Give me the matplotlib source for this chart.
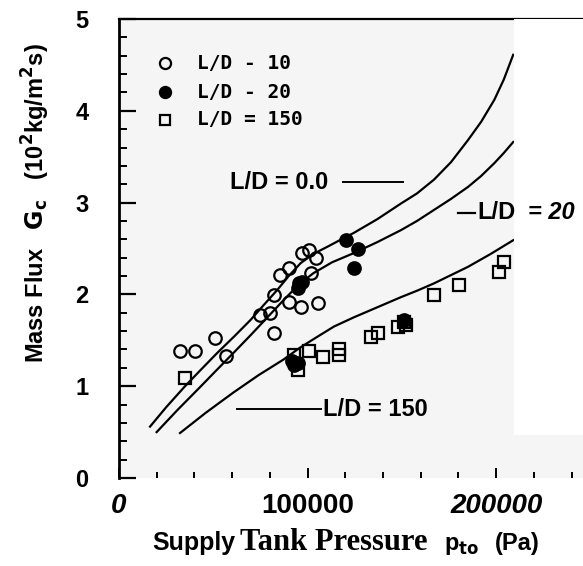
import matplotlib
matplotlib.use('Agg')
import matplotlib.pyplot as plt
from matplotlib.ticker import MultipleLocator

# data (pressure in Pa, mass flux in axis units)
ld10_p = [32400, 40400, 51100, 56900, 75000, 80300, 82000, 82400, 85600, 90000,
          90000, 96300, 97300, 100500, 101600, 104300, 105300]
ld10_g = [1.38, 1.38, 1.52, 1.33, 1.78, 1.80, 1.99, 1.58, 2.21, 2.29,
          1.92, 1.86, 2.45, 2.48, 2.23, 2.40, 1.91]

ld20_p = [120200, 126600, 124500, 95200, 94700, 97300, 92600, 94700, 92000, 151000]
ld20_g = [2.59, 2.50, 2.29, 2.12, 2.07, 2.14, 1.23, 1.25, 1.27, 1.72]

ld150_p = [35100, 92600, 94700, 100500, 108000, 116500, 116500, 133500, 137200,
           147900, 151100, 152100, 167000, 180300, 201600, 204300]
ld150_g = [1.09, 1.34, 1.18, 1.38, 1.32, 1.41, 1.34, 1.54, 1.58,
           1.65, 1.70, 1.67, 1.99, 2.10, 2.24, 2.35]

# model curves
c0_p = [16500, 25000, 34600, 43000, 52000, 61000, 69700, 77000, 84000, 90000, 96300,
        103000, 110600, 117000, 124500, 137000, 149500, 158000, 167000, 176000,
        185000, 192000, 199000, 204000, 209000]
c0_g = [0.56, 0.77, 0.99, 1.17, 1.36, 1.54, 1.72, 1.89, 2.05, 2.20, 2.34,
        2.44, 2.52, 2.59, 2.67, 2.82, 2.99, 3.10, 3.25, 3.44,
        3.68, 3.88, 4.12, 4.34, 4.61]
c20_p = [20000, 31000, 43000, 52000, 60600, 70000, 78700, 86000, 92600, 98000, 103000,
         113000, 124500, 137000, 149500, 158000, 167000, 176000, 185000, 192000,
         199000, 204000, 209000]
c20_g = [0.50, 0.74, 0.99, 1.18, 1.36, 1.56, 1.75, 1.91, 2.05, 2.15, 2.23,
         2.35, 2.45, 2.57, 2.70, 2.80, 2.92, 3.04, 3.17, 3.29,
         3.43, 3.54, 3.66]
c150_p = [32400, 46000, 60600, 74000, 87200, 96000, 105300, 114000, 124500, 137000,
          149500, 158000, 167000, 176000, 185000, 197000, 209000]
c150_g = [0.49, 0.71, 0.93, 1.12, 1.29, 1.42, 1.54, 1.65, 1.75, 1.86,
          1.97, 2.04, 2.12, 2.21, 2.30, 2.44, 2.59]

fig = plt.figure(figsize=(5.83, 5.66), dpi=100)
ax = fig.add_axes([0.204, 0.1555, 0.796, 0.8109])
ax.set_facecolor('#f5f5f5')

ax.plot(c0_p, c0_g, color='black', lw=1.6)
ax.plot(c20_p, c20_g, color='black', lw=1.6)
ax.plot(c150_p, c150_g, color='black', lw=1.6)

ax.plot(ld10_p, ld10_g, 'o', ms=9, mfc='none', mec='black', mew=1.6)
ax.plot(ld20_p, ld20_g, 'o', ms=9, mfc='black', mec='black', mew=1.6)
ax.plot(ld150_p, ld150_g, 's', ms=8.5, mfc='none', mec='black', mew=1.6)

# white patch over the right edge, as in the scan
ax.axvspan(209500, 250000, ymin=0.47 / 5, ymax=1, color='white', zorder=3, lw=0)

# hand-drawn legend
leg_x = 24500
ax.plot([leg_x], [4.52], 'o', ms=8, mfc='none', mec='black', mew=1.6)
ax.plot([leg_x], [4.20], 'o', ms=8, mfc='black', mec='black', mew=1.6)
ax.plot([leg_x], [3.90], 's', ms=7.5, mfc='none', mec='black', mew=1.6)
lfont = dict(family='DejaVu Sans Mono', fontsize=14, fontweight='bold',
             va='center', ha='left')
ax.text(41500, 4.52, 'L/D - 10', **lfont)
ax.text(41500, 4.20, 'L/D - 20', **lfont)
ax.text(41500, 3.90, 'L/D = 150', **lfont)

# curve labels
afont = dict(family='Liberation Sans', fontsize=17, fontweight='bold', va='center')
ax.text(59000, 3.22, 'L/D = 0.0', ha='left', **afont)
ax.plot([119000, 150500], [3.22, 3.22], color='black', lw=1.4)
ax.plot([62800, 107000], [0.75, 0.75], color='black', lw=1.4)
ax.text(108000, 0.75, 'L/D = 150', ha='left', **afont)
ax.plot([180000, 189000], [2.89, 2.89], color='black', lw=1.6, zorder=4)
ax.text(190000, 2.89, 'L/D', ha='left', zorder=4, **afont)
ax.text(217000, 2.89, '= 20', ha='left', va='center', family='Liberation Sans',
        fontsize=17, fontweight='bold', style='italic', zorder=4)

ax.set_xlim(0, 246000)
ax.set_ylim(0, 5)
ax.xaxis.set_major_locator(MultipleLocator(100000))
ax.xaxis.set_minor_locator(MultipleLocator(20000))
ax.yaxis.set_major_locator(MultipleLocator(1))
ax.yaxis.set_minor_locator(MultipleLocator(0.2))
ax.tick_params(axis='y', which='major', direction='in', length=12, width=1.6, pad=22)
ax.tick_params(axis='y', which='minor', direction='in', length=6, width=1.4)
ax.tick_params(axis='x', which='major', direction='in', length=7, width=1.4, pad=11)
ax.tick_params(axis='x', which='minor', direction='in', length=4, width=1.4)
ax.spines['right'].set_visible(False)
ax.spines['bottom'].set_visible(False)
ax.spines['left'].set_linewidth(2)
ax.spines['top'].set_linewidth(1.6)

ax.set_xticks([0, 100000, 200000])
ax.set_xticklabels(['0', '100000', '200000'], family='Liberation Sans',
                   fontsize=20, fontweight='bold')
xl = ax.get_xticklabels()
xl[0].set_style('italic')
xl[2].set_style('italic')
ax.set_yticks([0, 1, 2, 3, 4, 5])
ax.set_yticklabels(['0', '1', '2', '3', '4', '5'], family='Liberation Sans',
                   fontsize=17, fontweight='bold')

ax.set_ylabel(r'Mass Flux   $\mathbf{G_c}$   (10$^{\mathbf{2}}$kg/m$^{\mathbf{2}}$s)',
              family='Liberation Sans', fontsize=17, fontweight='bold')
ax.yaxis.set_label_coords(-0.145, 0.6)

# x axis title in mixed fonts, as in the scan
fig.text(0.262, 0.029, 'Supply', family='Liberation Sans', fontsize=18,
         fontweight='bold', va='baseline')
fig.text(0.412, 0.029, 'Tank Pressure', family='Liberation Serif', fontsize=22,
         fontweight='bold', va='baseline')
fig.text(0.762, 0.029, r'p$_{\mathbf{to}}$', family='Liberation Sans', fontsize=17,
         fontweight='bold', va='baseline')
fig.text(0.848, 0.029, '(Pa)', family='Liberation Sans', fontsize=17,
         fontweight='bold', va='baseline')

fig.savefig('out.png', dpi=100)
